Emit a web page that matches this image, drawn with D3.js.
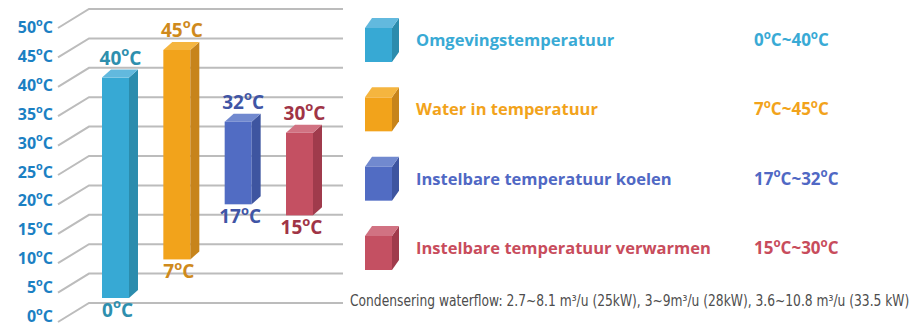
<!DOCTYPE html>
<html>
<head>
<meta charset="utf-8">
<script src="https://cdn.jsdelivr.net/npm/d3@7"></script>
<style>
  html, body { margin: 0; padding: 0; background: #fff; }
  svg { display: block; }
  text { font-family: "Open Sans", "Noto Sans", sans-serif; }
</style>
</head>
<body>
<svg id="chart" width="915" height="327"></svg>
<script>
// Temperature operating ranges per circuit
const categories = [
  "Omgevingstemperatuur",
  "Water in temperatuur",
  "Instelbare temperatuur koelen",
  "Instelbare temperatuur verwarmen"
];
const minValues = [0, 7, 17, 15];
const maxValues = [40, 45, 32, 30];
const yTicks = [0, 5, 10, 15, 20, 25, 30, 35, 40, 45, 50];
const footnote = "Condensering waterflow: 2.7~8.1 m\u00B3/u (25kW), 3~9m\u00B3/u (28kW), 3.6~10.8 m\u00B3/u (33.5 kW)";

// colour sets: front face, side face, top face, label
const palette = [
  { front: "#37a9d4", side: "#2b8cad", top: "#62b9de", label: "#2e8fae", legend: "#39aad5" },
  { front: "#f2a31b", side: "#c7841b", top: "#f5b53f", label: "#cf8a1c", legend: "#f2a31b" },
  { front: "#516cc3", side: "#3e55a0", top: "#7189cf", label: "#3f55a5", legend: "#5068c4" },
  { front: "#c45062", side: "#a03b4c", top: "#d17282", label: "#a03446", legend: "#c84c5c" }
];

const svg = d3.select("#chart");

// back wall scale (grid), axis label scale and bar scale (slight perspective difference)
const wallY = d3.scaleLinear().domain([0, 50]).range([303, 9]);
const labelY = d3.scaleLinear().domain([0, 50]).range([322, 33]);
const barY = d3.scaleLinear().domain([0, 45]).range([298, 50]);
const x = d3.scaleBand().domain(categories).range([102, 313]).paddingInner(0.56).paddingOuter(0);

const depthX = 31, depthY = 19;       // floor diagonal
const wallLeft = 89, wallRight = 343;
const cubeDX = 9, cubeDY = 8;

// grid: back lines + diagonals
const grid = svg.append("g").attr("stroke", "#bcbcbc").attr("stroke-width", 2).attr("fill", "none");
yTicks.forEach(t => {
  const yb = wallY(t);
  grid.append("path")
    .attr("d", `M${wallLeft - depthX},${yb + depthY}L${wallLeft},${yb}L${wallRight},${yb}`);
});

// degree label helper: number, superscript o, C
function degreeText(sel, value, size) {
  sel.text(null);
  sel.append("tspan").text(value);
  sel.append("tspan").attr("font-size", size * 0.68).attr("dy", -size * 0.45).text("o");
  sel.append("tspan").attr("dy", size * 0.45).text("C");
}

// axis labels
svg.append("g").selectAll("text").data(yTicks).join("text")
  .attr("x", 53)
  .attr("y", d => labelY(d))
  .attr("text-anchor", "end")
  .attr("font-size", 16)
  .attr("font-weight", 700)
  .attr("fill", "#1b80c3")
  .each(function(d) { degreeText(d3.select(this), d, 16); });

// 3D bars
const bars = svg.append("g");
categories.forEach((c, i) => {
  const x0 = x(c), w = x.bandwidth(), x1 = x0 + w;
  const yt = barY(maxValues[i]), yb = barY(minValues[i]);
  const col = palette[i];
  const g = bars.append("g");
  g.append("rect").attr("x", x0).attr("y", yt).attr("width", w).attr("height", yb - yt).attr("fill", col.front);
  g.append("path").attr("fill", col.side)
    .attr("d", `M${x1},${yt}L${x1 + cubeDX},${yt - cubeDY}L${x1 + cubeDX},${yb - cubeDY}L${x1},${yb}Z`);
  g.append("path").attr("fill", col.top)
    .attr("d", `M${x0},${yt}L${x0 + cubeDX},${yt - cubeDY}L${x1 + cubeDX},${yt - cubeDY}L${x1},${yt}Z`);

  g.append("text")
    .attr("x", x0 + w / 2 + 5).attr("y", yt - 13)
    .attr("text-anchor", "middle").attr("font-size", 19).attr("font-weight", 700)
    .attr("fill", col.label)
    .call(s => degreeText(s, maxValues[i], 19));
  g.append("text")
    .attr("x", x0 + w / 2 + 2).attr("y", yb + 19)
    .attr("text-anchor", "middle").attr("font-size", 19).attr("font-weight", 700)
    .attr("fill", col.label)
    .call(s => degreeText(s, minValues[i], 19));
});

// legend
const legendY = d3.scalePoint().domain(categories).range([40, 248]);
const legend = svg.append("g");
categories.forEach((c, i) => {
  const col = palette[i];
  const cy = legendY(c);
  const lx0 = 365, lw = 27, lh = 34, ldx = 7, ldy = 10;
  const ly0 = cy - 12, ly1 = ly0 + lh;
  legend.append("rect").attr("x", lx0).attr("y", ly0).attr("width", lw).attr("height", lh).attr("fill", col.front);
  legend.append("path").attr("fill", col.side)
    .attr("d", `M${lx0 + lw},${ly0}L${lx0 + lw + ldx},${ly0 - ldy}L${lx0 + lw + ldx},${ly1 - ldy}L${lx0 + lw},${ly1}Z`);
  legend.append("path").attr("fill", col.top)
    .attr("d", `M${lx0},${ly0}L${lx0 + ldx},${ly0 - ldy}L${lx0 + lw + ldx},${ly0 - ldy}L${lx0 + lw},${ly0}Z`);

  legend.append("text")
    .attr("x", 416).attr("y", cy + 6)
    .attr("font-size", 16.5).attr("font-weight", 700)
    .attr("fill", col.legend)
    .text(c);

  const r = legend.append("text")
    .attr("x", 754).attr("y", cy + 6)
    .attr("font-size", 17).attr("font-weight", 700)
    .attr("fill", col.legend);
  r.append("tspan").text(minValues[i]);
  r.append("tspan").attr("font-size", 11.5).attr("dy", -7.5).text("o");
  r.append("tspan").attr("dy", 7.5).text("C~" + maxValues[i]);
  r.append("tspan").attr("font-size", 11.5).attr("dy", -7.5).text("o");
  r.append("tspan").attr("dy", 7.5).text("C");
});

// footnote, horizontally condensed to fit the space under the legend
const fnX = 350, fnWidth = 560;
const fn = svg.append("text")
  .attr("x", 0).attr("y", 0)
  .attr("font-size", 16)
  .attr("fill", "#4d4d4d")
  .style("font-family", "'Liberation Sans Narrow', 'DejaVu Sans Condensed', sans-serif")
  .text(footnote);
const natural = fn.node().getComputedTextLength();
fn.attr("transform", `translate(${fnX},306) scale(${Math.min(1, fnWidth / natural)},1)`);
</script>
</body>
</html>
